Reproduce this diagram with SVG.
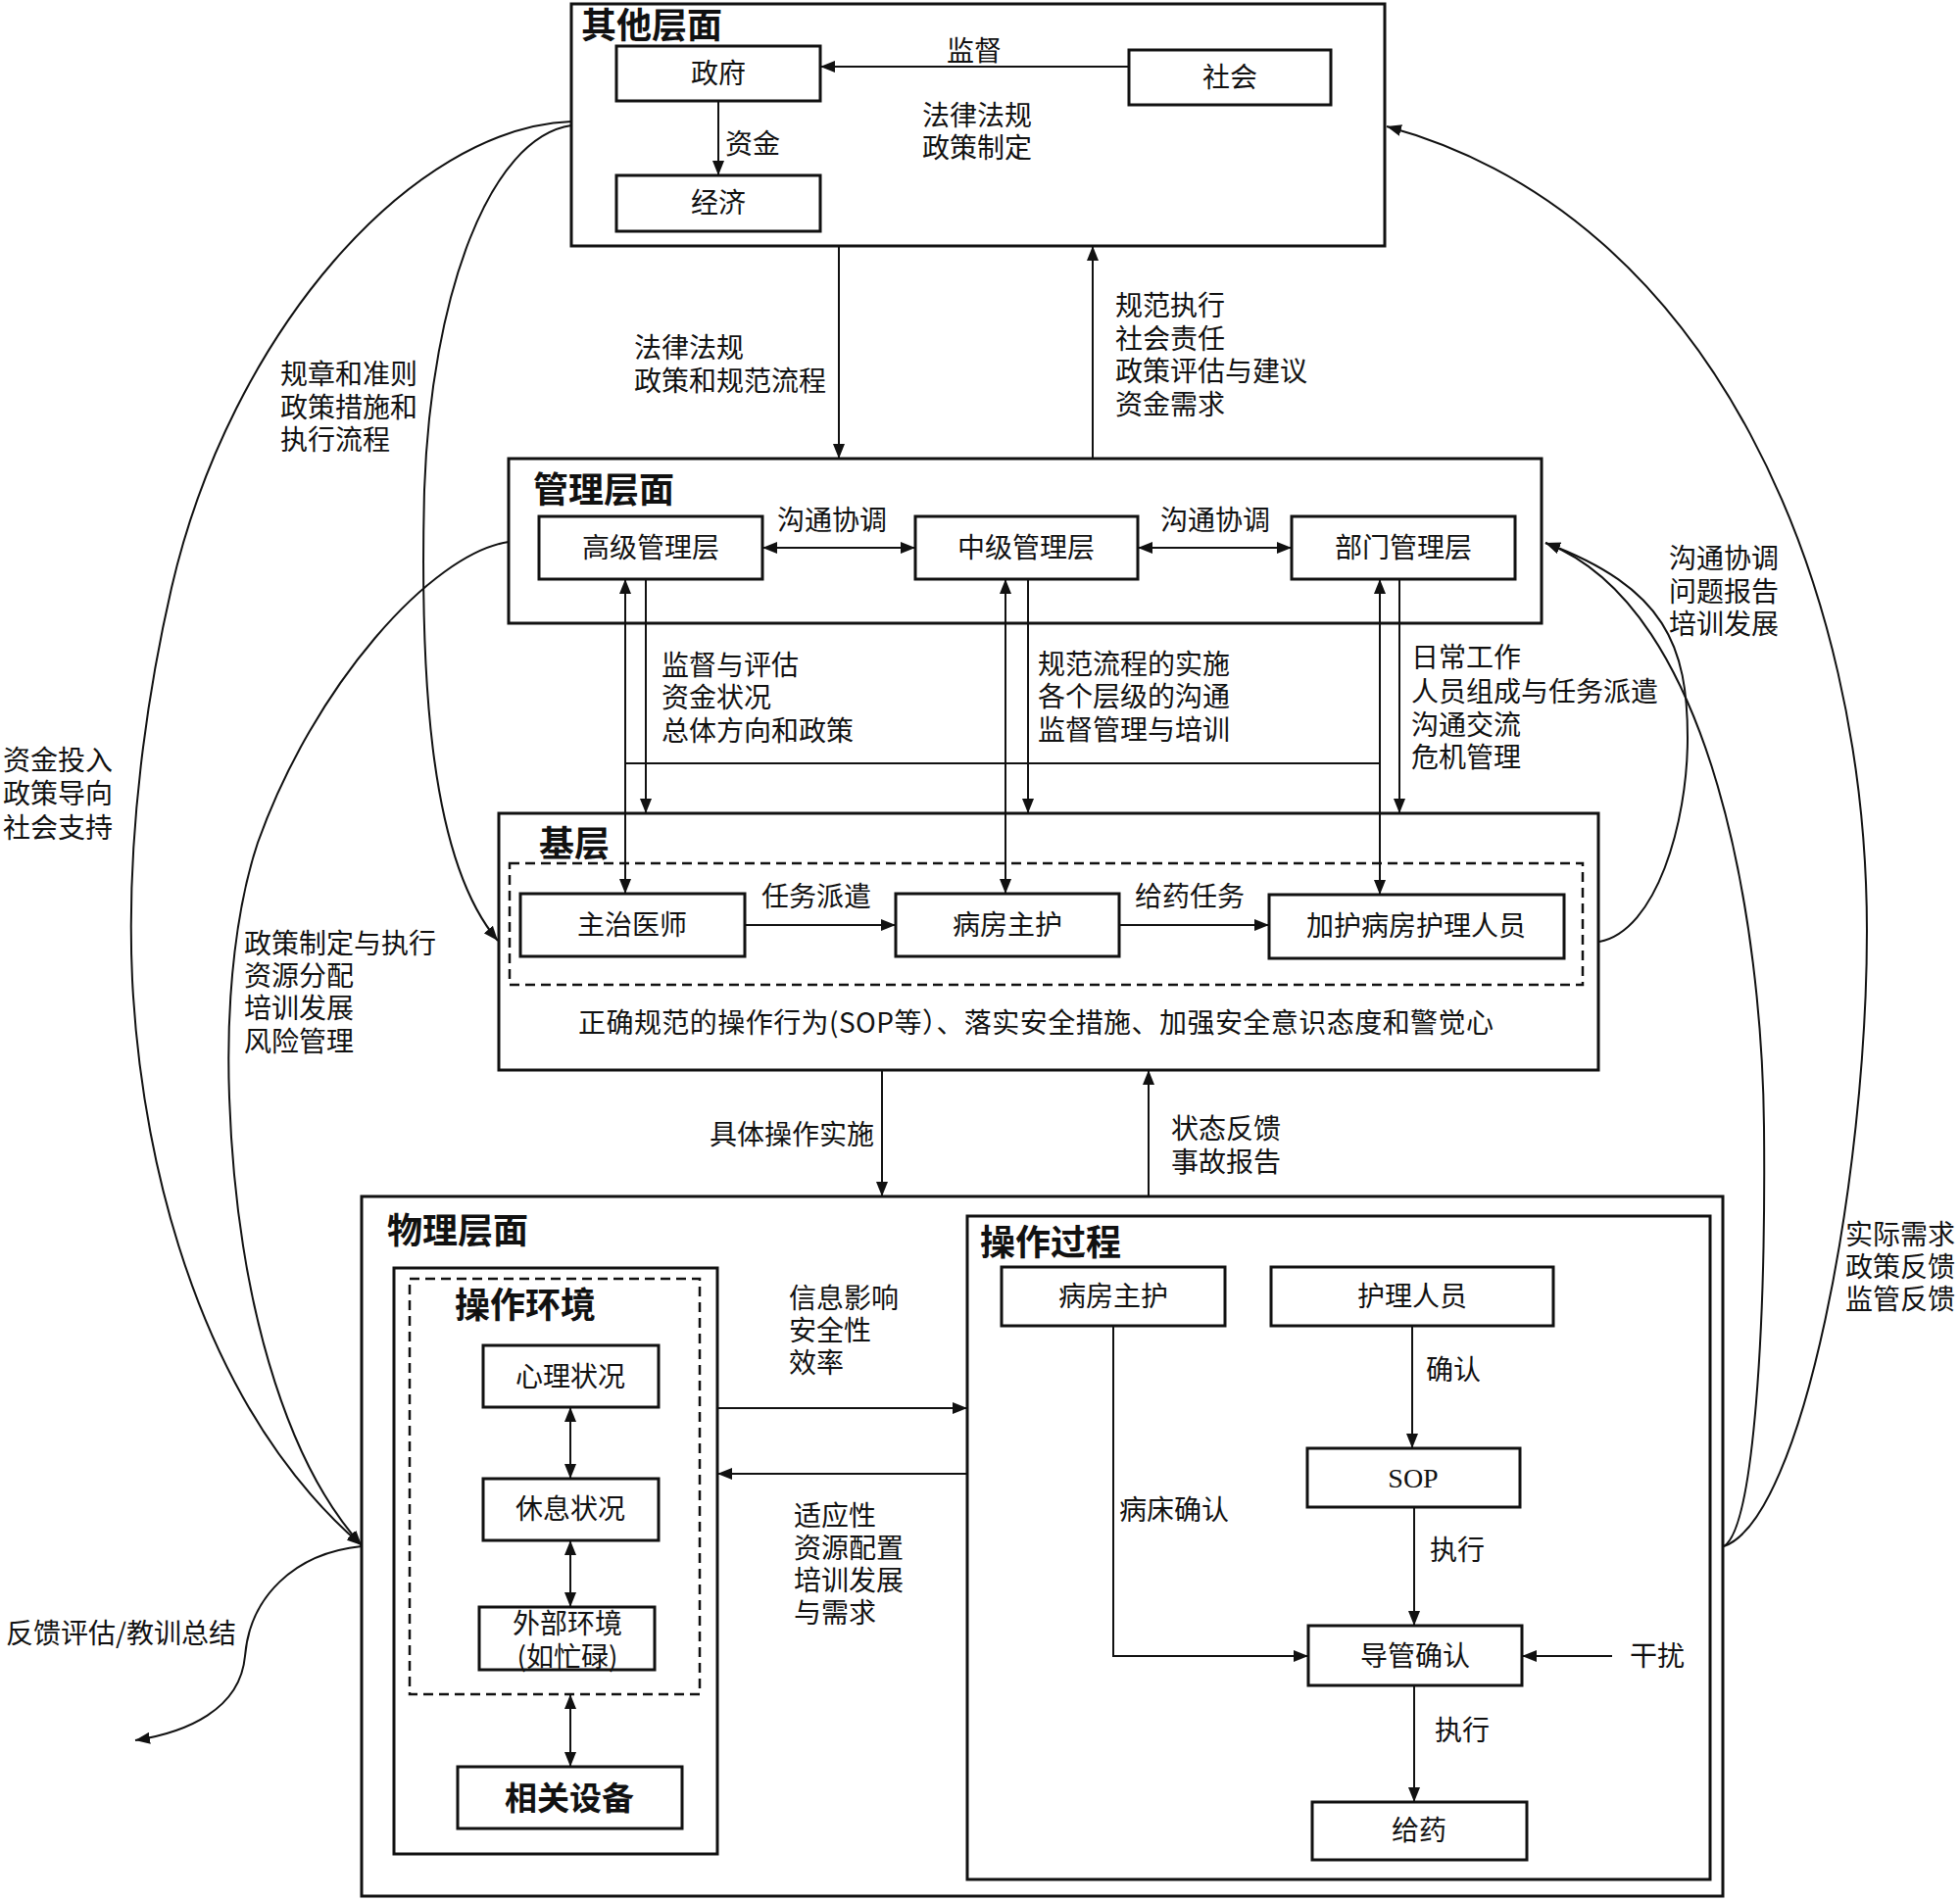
<svg xmlns="http://www.w3.org/2000/svg" width="2000" height="1940" viewBox="0 0 2000 1940">
<style>
text{font-family:"Noto Sans CJK SC","Noto Sans",sans-serif;font-size:28px;fill:#111}
.h{font-weight:bold;font-size:36px}
.c{text-anchor:middle}
.box{fill:none;stroke:#111;stroke-width:3}
.dash{fill:none;stroke:#111;stroke-width:2.5;stroke-dasharray:10 6}
.ln{fill:none;stroke:#111;stroke-width:2}
.a{marker-end:url(#ah)}
.d{marker-start:url(#ah);marker-end:url(#ah)}
.serif{font-family:"Liberation Serif",serif}
</style>
<defs>
<marker id="ah" markerUnits="userSpaceOnUse" markerWidth="16" markerHeight="12" refX="15" refY="6" orient="auto-start-reverse"><path d="M0,0 L15,6 L0,12 z" fill="#111"/></marker>
</defs>
<rect width="2000" height="1940" fill="#fff"/>

<g id="other-level">
<rect class="box" x="583" y="4" width="830" height="247"/>
<text class="h" x="593" y="39">其他层面</text>
<text x="941" y="128">法律法规<tspan x="941" dy="33">政策制定</tspan></text>
</g>
<g id="gov"><rect class="box" x="629" y="47" width="208" height="56"/><text class="c" x="733" y="85">政府</text></g>
<g id="econ"><rect class="box" x="629" y="179" width="208" height="57"/><text class="c" x="733" y="217">经济</text></g>
<g id="society"><rect class="box" x="1152" y="51" width="206" height="56"/><text class="c" x="1255" y="89">社会</text></g>

<g id="mgmt-level">
<rect class="box" x="519" y="468" width="1054" height="168"/>
<text class="h" x="544" y="513">管理层面</text>
</g>
<g id="senior"><rect class="box" x="550" y="527" width="228" height="64"/><text class="c" x="664" y="569">高级管理层</text></g>
<g id="middle"><rect class="box" x="934" y="527" width="227" height="64"/><text class="c" x="1047" y="569">中级管理层</text></g>
<g id="dept"><rect class="box" x="1318" y="527" width="228" height="64"/><text class="c" x="1432" y="569">部门管理层</text></g>

<g id="base-level">
<rect class="box" x="509" y="830" width="1122" height="262"/>
<rect class="dash" x="520" y="881" width="1095" height="124"/>
<text class="h" x="550" y="874">基层</text>
<text x="590" y="1054" textLength="934" lengthAdjust="spacing">正确规范的操作行为(SOP等）、落实安全措施、加强安全意识态度和警觉心</text>
</g>
<g id="doctor"><rect class="box" x="531" y="912" width="229" height="64"/><text class="c" x="645" y="954">主治医师</text></g>
<g id="headnurse"><rect class="box" x="914" y="912" width="228" height="64"/><text class="c" x="1028" y="954">病房主护</text></g>
<g id="icu-nurse"><rect class="box" x="1295" y="913" width="301" height="65"/><text class="c" x="1445" y="955">加护病房护理人员</text></g>

<g id="physical-level">
<rect class="box" x="369" y="1221" width="1389" height="714"/>
<text class="h" x="395" y="1269">物理层面</text>
</g>
<g id="env">
<rect class="box" x="402" y="1294" width="330" height="598"/>
<rect class="dash" x="418" y="1305" width="296" height="424"/>
<text class="h" x="464" y="1345">操作环境</text>
</g>
<g id="psych"><rect class="box" x="493" y="1373" width="179" height="63"/><text class="c" x="582" y="1415">心理状况</text></g>
<g id="rest"><rect class="box" x="493" y="1509" width="179" height="63"/><text class="c" x="582" y="1550">休息状况</text></g>
<g id="external"><rect class="box" x="489" y="1640" width="179" height="64"/><text class="c" x="579" y="1667">外部环境<tspan x="579" dy="34">(如忙碌)</tspan></text></g>
<g id="equipment"><rect class="box" x="467" y="1803" width="229" height="63"/><text class="c h" x="581" y="1847" style="font-size:33px">相关设备</text></g>

<g id="process">
<rect class="box" x="987" y="1241" width="758" height="677"/>
<text class="h" x="1000" y="1281">操作过程</text>
</g>
<g id="p-headnurse"><rect class="box" x="1022" y="1293" width="228" height="60"/><text class="c" x="1136" y="1333">病房主护</text></g>
<g id="p-nurse"><rect class="box" x="1297" y="1293" width="288" height="60"/><text class="c" x="1441" y="1333">护理人员</text></g>
<g id="sop"><rect class="box" x="1334" y="1478" width="217" height="60"/><text class="c serif" x="1442" y="1518">SOP</text></g>
<g id="catheter"><rect class="box" x="1335" y="1659" width="218" height="61"/><text class="c" x="1444" y="1700">导管确认</text></g>
<g id="medicate"><rect class="box" x="1339" y="1839" width="219" height="59"/><text class="c" x="1448" y="1878">给药</text></g>

<g id="connectors">
<path class="ln a" d="M733,103 V179"/>
<path class="ln a" d="M1152,68 H837"/>
<path class="ln a" d="M856,251 V468"/>
<path class="ln a" d="M1115,468 V251"/>
<path class="ln d" d="M778,559 H934"/>
<path class="ln d" d="M1161,559 H1318"/>
<path class="ln d" d="M638,591 V912"/>
<path class="ln a" d="M659,591 V830"/>
<path class="ln d" d="M1026,591 V912"/>
<path class="ln a" d="M1049,591 V830"/>
<path class="ln d" d="M1408,591 V913"/>
<path class="ln a" d="M1428,591 V830"/>
<path class="ln" d="M638,779 H1408"/>
<path class="ln a" d="M760,944 H914"/>
<path class="ln a" d="M1142,944 H1295"/>
<path class="ln a" d="M900,1092 V1221"/>
<path class="ln a" d="M1172,1221 V1092"/>
<path class="ln a" d="M732,1437 H987"/>
<path class="ln a" d="M987,1504 H732"/>
<path class="ln d" d="M582,1436 V1509"/>
<path class="ln d" d="M582,1572 V1640"/>
<path class="ln d" d="M582,1729 V1803"/>
<path class="ln a" d="M1441,1353 V1478"/>
<path class="ln a" d="M1443,1538 V1659"/>
<path class="ln a" d="M1443,1720 V1839"/>
<path class="ln a" d="M1136,1353 V1690 H1335"/>
<path class="ln a" d="M1645,1690 H1553"/>
<path class="ln a" d="M583,124 C420,130 235,340 175,600 C152,700 128,850 135,1000 C145,1200 210,1440 369,1577"/>
<path class="ln a" d="M583,128 C500,140 440,300 433,500 C428,700 440,880 508,960"/>
<path class="ln a" d="M519,553 C440,565 320,700 263,860 C243,920 230,1010 234,1120 C241,1320 290,1490 369,1577"/>
<path class="ln a" d="M369,1578 C300,1585 255,1630 250,1690 C245,1745 190,1768 138,1776"/>
<path class="ln a" d="M1759,1578 C1840,1550 1905,1200 1905,950 C1905,600 1750,220 1415,129"/>
<path class="ln a" d="M1759,1578 C1790,1560 1802,1350 1800,1150 C1798,950 1750,620 1577,554"/>
<path class="ln a" d="M1632,961 C1690,950 1722,840 1722,753 C1722,660 1700,600 1577,554"/>
</g>

<g id="labels">
<text x="966" y="62">监督</text>
<text x="740" y="157">资金</text>
<text x="647" y="365">法律法规<tspan x="647" dy="34">政策和规范流程</tspan></text>
<text x="1138" y="322">规范执行<tspan x="1138" dy="34">社会责任</tspan><tspan x="1138" dy="33">政策评估与建议</tspan><tspan x="1138" dy="34">资金需求</tspan></text>
<text x="793" y="541">沟通协调</text>
<text x="1184" y="541">沟通协调</text>
<text x="675" y="689">监督与评估<tspan x="675" dy="33">资金状况</tspan><tspan x="675" dy="34">总体方向和政策</tspan></text>
<text x="1059" y="688">规范流程的实施<tspan x="1059" dy="33">各个层级的沟通</tspan><tspan x="1059" dy="34">监督管理与培训</tspan></text>
<text x="1440" y="681">日常工作<tspan x="1440" dy="35">人员组成与任务派遣</tspan><tspan x="1440" dy="34">沟通交流</tspan><tspan x="1440" dy="33">危机管理</tspan></text>
<text x="777" y="925">任务派遣</text>
<text x="1158" y="925">给药任务</text>
<text x="724" y="1168">具体操作实施</text>
<text x="1195" y="1162">状态反馈<tspan x="1195" dy="34">事故报告</tspan></text>
<text x="805" y="1335">信息影响<tspan x="805" dy="33">安全性</tspan><tspan x="805" dy="33">效率</tspan></text>
<text x="810" y="1557">适应性<tspan x="810" dy="33">资源配置</tspan><tspan x="810" dy="33">培训发展</tspan><tspan x="810" dy="33">与需求</tspan></text>
<text x="1455" y="1408">确认</text>
<text x="1459" y="1592">执行</text>
<text x="1464" y="1776">执行</text>
<text x="1142" y="1551">病床确认</text>
<text x="1663" y="1700">干扰</text>
<text x="286" y="392">规章和准则<tspan x="286" dy="34">政策措施和</tspan><tspan x="286" dy="33">执行流程</tspan></text>
<text x="3" y="786">资金投入<tspan x="3" dy="34">政策导向</tspan><tspan x="3" dy="35">社会支持</tspan></text>
<text x="249" y="973">政策制定与执行<tspan x="249" dy="33">资源分配</tspan><tspan x="249" dy="33">培训发展</tspan><tspan x="249" dy="34">风险管理</tspan></text>
<text x="6" y="1677">反馈评估/教训总结</text>
<text x="1703" y="580">沟通协调<tspan x="1703" dy="34">问题报告</tspan><tspan x="1703" dy="33">培训发展</tspan></text>
<text x="1883" y="1270">实际需求<tspan x="1883" dy="33">政策反馈</tspan><tspan x="1883" dy="33">监管反馈</tspan></text>
</g>
</svg>
